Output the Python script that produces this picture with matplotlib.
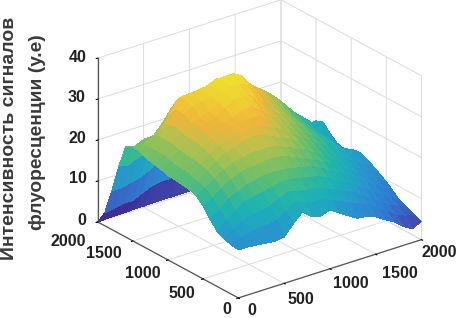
import numpy as np
import matplotlib
matplotlib.use('Agg')
import matplotlib.pyplot as plt
from matplotlib.colors import LinearSegmentedColormap
from matplotlib.ticker import NullFormatter
from mpl_toolkits.mplot3d import proj3d

plt.rcParams['font.family'] = ['Liberation Sans', 'DejaVu Sans']
plt.rcParams['font.weight'] = 'bold'

x_vals = np.arange(0, 2001, 100)
y_vals = np.arange(0, 2001, 100)

# heights, one row per y (0..2000), columns x (0..2000)
z_rows = [
    [11.7, 11.7, 11.5, 11.2, 11.0, 11.3, 13.8, 16.0, 14.1, 13.6, 14.4, 12.9, 11.5, 10.2, 9.9, 9.1, 7.7, 6.5, 4.6, 3.4, 4.4],
    [12.0, 13.0, 13.5, 14.0, 14.0, 14.5, 16.0, 17.5, 16.5, 16.0, 16.0, 15.0, 14.0, 13.0, 12.0, 11.0, 9.5, 8.0, 6.5, 5.5, 5.1],
    [12.5, 14.0, 15.5, 16.2, 16.5, 17.0, 18.0, 19.0, 18.5, 18.0, 17.8, 17.0, 16.0, 15.0, 14.0, 12.5, 11.0, 9.5, 8.0, 7.0, 6.0],
    [13.4, 15.5, 17.0, 18.5, 19.0, 19.5, 20.0, 20.5, 20.5, 20.0, 19.5, 19.0, 18.0, 16.5, 15.5, 14.0, 12.5, 11.0, 9.5, 8.0, 6.6],
    [15.4, 17.0, 19.0, 20.0, 21.0, 21.5, 22.0, 22.0, 22.0, 21.5, 21.0, 20.5, 19.5, 18.0, 17.0, 15.5, 14.0, 12.5, 11.0, 9.5, 8.0],
    [17.8, 19.0, 20.5, 22.0, 23.0, 23.5, 23.5, 24.0, 24.0, 23.5, 22.5, 21.5, 20.5, 19.5, 18.0, 16.5, 15.0, 13.5, 12.0, 10.5, 9.5],
    [19.4, 20.5, 22.0, 23.5, 24.5, 25.0, 25.5, 25.5, 25.5, 25.0, 24.0, 23.0, 22.0, 20.5, 19.0, 17.5, 16.0, 14.5, 13.0, 12.0, 10.6],
    [20.0, 21.0, 23.0, 24.5, 26.0, 26.5, 27.5, 28.0, 27.5, 26.5, 25.5, 24.5, 23.0, 21.5, 20.0, 18.5, 17.0, 15.5, 14.0, 12.5, 11.7],
    [20.2, 21.5, 23.5, 25.5, 27.0, 27.5, 28.5, 29.0, 28.5, 28.0, 27.0, 25.5, 24.0, 22.5, 21.0, 19.5, 18.0, 16.5, 15.0, 13.5, 12.7],
    [20.5, 22.0, 24.0, 26.0, 27.5, 28.5, 29.0, 29.5, 29.5, 29.5, 28.0, 26.5, 25.0, 23.5, 22.0, 20.5, 19.0, 17.5, 15.5, 14.0, 13.2],
    [20.6, 22.0, 24.0, 26.5, 28.0, 29.0, 29.0, 29.5, 30.5, 31.0, 29.5, 27.5, 26.0, 24.5, 23.0, 21.5, 19.5, 18.0, 16.0, 13.5, 12.8],
    [21.2, 22.5, 24.5, 26.5, 28.5, 29.0, 29.5, 31.0, 32.5, 32.5, 31.0, 29.5, 27.0, 25.5, 24.0, 22.0, 20.0, 18.0, 16.0, 14.0, 12.0],
    [21.5, 23.0, 25.0, 27.0, 28.5, 29.0, 30.0, 31.5, 32.5, 32.5, 31.5, 30.0, 28.0, 26.5, 24.5, 22.5, 20.5, 18.5, 16.0, 14.5, 12.4],
    [22.0, 23.0, 25.0, 27.5, 30.0, 31.0, 31.5, 32.0, 32.5, 33.0, 33.0, 32.0, 29.5, 27.5, 25.5, 23.5, 21.0, 19.0, 17.0, 15.0, 13.9],
    [22.8, 23.0, 25.0, 27.0, 30.0, 31.5, 31.5, 32.0, 33.0, 33.5, 33.5, 33.5, 30.5, 28.5, 26.5, 24.5, 22.0, 20.0, 18.0, 16.0, 15.7],
    [23.0, 22.5, 24.0, 24.6, 28.0, 31.3, 31.5, 31.7, 32.0, 33.0, 33.0, 33.0, 31.0, 28.8, 27.0, 25.2, 23.0, 20.4, 17.5, 14.6, 15.1],
    [22.2, 21.5, 22.5, 22.5, 25.0, 28.0, 28.0, 28.5, 29.0, 29.5, 29.5, 29.5, 28.0, 26.0, 24.5, 23.0, 20.5, 18.0, 15.0, 13.0, 13.0],
    [16.4, 16.0, 17.0, 17.5, 19.0, 21.0, 21.5, 22.0, 22.5, 23.0, 23.0, 23.0, 22.0, 21.0, 20.0, 18.5, 16.5, 14.5, 12.0, 10.0, 9.0],
    [9.4, 9.5, 10.0, 10.5, 11.5, 13.0, 13.5, 14.0, 14.5, 15.0, 15.0, 15.0, 14.5, 14.0, 13.0, 12.0, 11.0, 9.5, 8.0, 7.0, 6.0],
    [3.2, 3.5, 4.0, 4.0, 5.0, 6.0, 6.5, 6.5, 7.0, 7.0, 7.0, 7.0, 7.0, 6.5, 6.0, 5.5, 5.0, 4.5, 4.0, 3.5, 3.0],
    [0.0, 0.1, 0.2, 0.2, 0.3, 0.3, 0.4, 0.4, 0.4, 0.4, 0.4, 0.4, 0.4, 0.4, 0.3, 0.3, 0.3, 0.2, 0.2, 0.1, 0.0],
]

xy_ticks = [0, 500, 1000, 1500, 2000]
z_ticks = [0, 10, 20, 30, 40]

# label offsets from the tick, in pixels (right, down)
x_label_off = [(13, 13), (17, 16), (21, 15), (24, 19), (18, 13)]
y_label_off = [(-12, 12), (-21, 15), (-25, 14), (-29, 13), (-30, 20)]
z_label_off = [(-16, -1), (-20, -2), (-20, -2), (-21, -2), (-20, -1)]

parula = LinearSegmentedColormap.from_list('parula', [
    (0.0, '#3d2f96'), (0.094, '#3f55b8'), (0.19, '#2f7ad0'), (0.31, '#2a90d0'),
    (0.41, '#1fa8bf'), (0.5, '#22b5a8'), (0.59, '#55bc78'), (0.69, '#95c058'),
    (0.78, '#c8bf48'), (0.84, '#eeb43c'), (0.91, '#f0c835'), (1.0, '#ece52c')])

X, Y = np.meshgrid(x_vals, y_vals)
Z = np.array(z_rows)

fig = plt.figure(figsize=(4.58, 3.18), dpi=100)
# square axes kept inside the figure, the box itself overflows at the top
ax = fig.add_axes([(255.5 - 153) / 458, (165 - 153) / 318, 306 / 458, 306 / 318], projection='3d')
ax.set_proj_type('ortho')
ax.view_init(elev=24.5, azim=-127.5)
ax.set_box_aspect((1, 1, 0.78), zoom=0.905 * 400 / 306)
ax.set_xlim(0, 2000, view_margin=0)
ax.set_ylim(0, 2000, view_margin=0)
ax.set_zlim(0, 40, view_margin=0)
ax.patch.set_alpha(0)

surf = ax.plot_surface(X, Y, Z, cmap=parula, vmin=2, vmax=34, rstride=1, cstride=1,
                       linewidth=0, antialiased=False, shade=False)
surf.set_clip_on(False)

ax.set_xticks(xy_ticks)
ax.set_yticks(xy_ticks)
ax.set_zticks(z_ticks)
for axis in (ax.xaxis, ax.yaxis, ax.zaxis):
    axis.set_major_formatter(NullFormatter())
    axis.set_pane_color((1, 1, 1, 0))
    axis.pane.set_edgecolor('#dddddd')
    axis._axinfo['grid']['color'] = '#dcdcdc'
    axis._axinfo['grid']['linewidth'] = 0.7
    axis._axinfo['tick']['inward_factor'] = 0.1
    axis._axinfo['tick']['outward_factor'] = 0.0
    axis._axinfo['tick']['color'] = '#555555'
    axis.line.set_color('#555555')
    axis.line.set_linewidth(0.9)


def tick_label(x, y, z, s, off):
    # project the tick to the 2d plane, then shift by pixels
    px, py, _ = proj3d.proj_transform(x, y, z, ax.get_proj())
    ax.annotate(s, xy=(px, py), xytext=(off[0], -off[1]), textcoords='offset pixels',
                fontsize=11.5, color='#222222', ha='center', va='center',
                annotation_clip=False)


for v, off in zip(xy_ticks, x_label_off):
    tick_label(v, 0, 0, str(v), off)
for v, off in zip(xy_ticks, y_label_off):
    tick_label(0, v, 0, str(v), off)
for v, off in zip(z_ticks, z_label_off):
    tick_label(0, 2000, v, str(v), off)

fig.text(10 / 458, 1 - 138 / 318, 'Интенсивность сигналов', rotation=90,
         fontsize=14, color='#3a3a3a', ha='center', va='center')
fig.text(38 / 458, 1 - 132 / 318, 'флуоресценции (у.е)', rotation=90,
         fontsize=13.8, color='#3a3a3a', ha='center', va='center')

fig.savefig('out.png', dpi=100)
